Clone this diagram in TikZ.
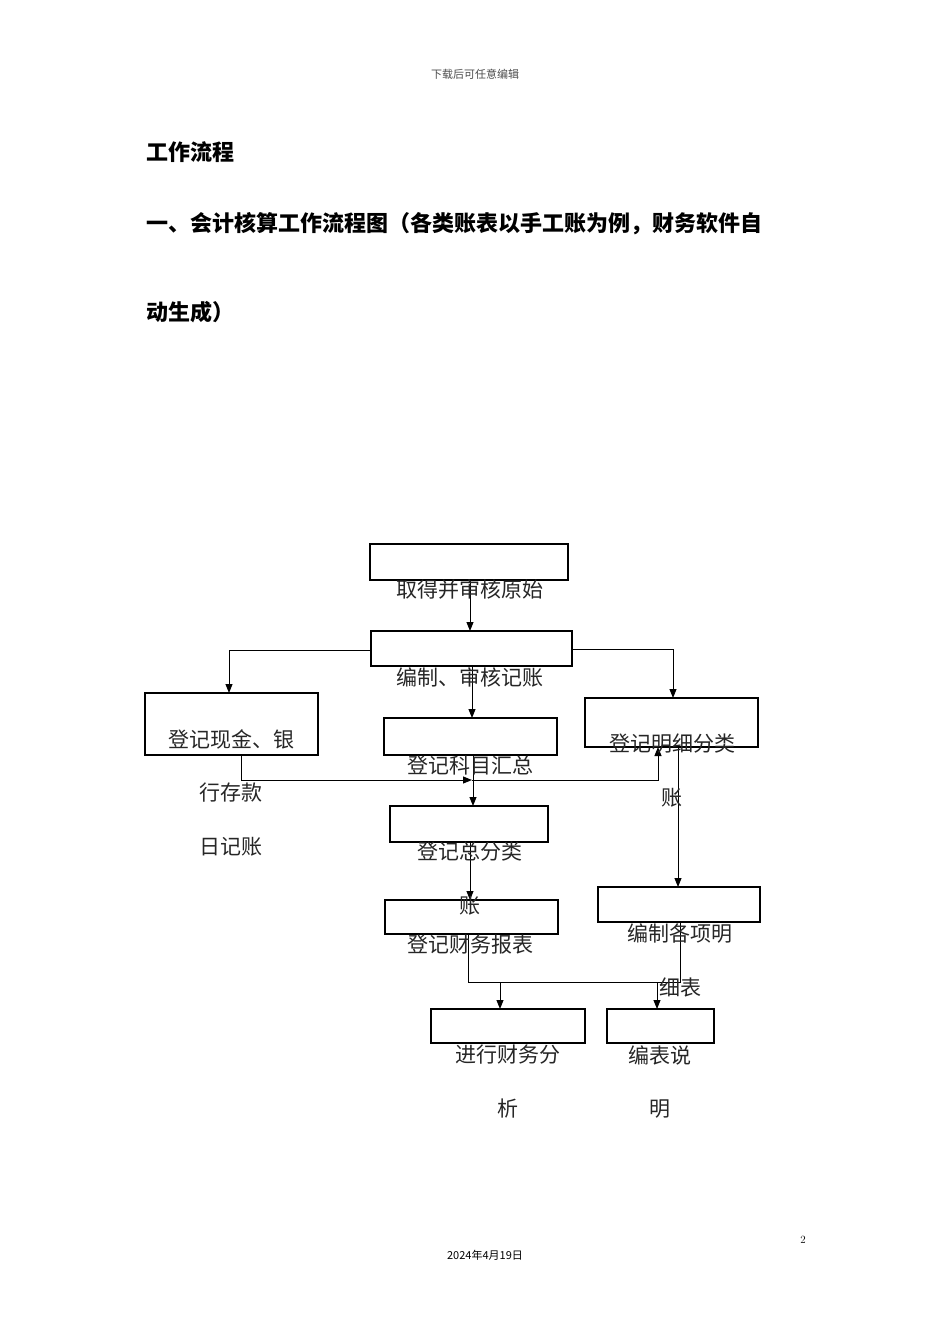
\documentclass[tikz,border=0pt]{standalone}
\usepackage{fontspec}
\newfontfamily\cjk{Noto Sans CJK SC}
\usetikzlibrary{arrows.meta}
\begin{document}
\begin{tikzpicture}[x=1pt,y=-1pt,
  bx/.style={draw,line width=1.2pt},
  lb/.style={font=\cjk\fontsize{21}{21}\selectfont,text=black!85,inner sep=0pt},
  ln/.style={line width=1pt},
  ar/.style={ln,-{Triangle[length=9pt,width=7pt]}}]
\useasboundingbox (0,0) rectangle (950,1344);
\node[font=\cjk\fontsize{11}{11}\selectfont,text=black!70] (hd) at (475,74) {下载后可任意编辑};
\node[font=\cjk\bfseries\fontsize{22}{22}\selectfont,anchor=west] (t1) at (143,152) {工作流程};
\node[font=\cjk\bfseries\fontsize{22}{22}\selectfont,anchor=west] (t2) at (143,224) {一、会计核算工作流程图（各类账表以手工账为例，财务软件自};
\node[font=\cjk\bfseries\fontsize{22}{22}\selectfont,anchor=west] (t3) at (143,312) {动生成）};
\node[font=\fontsize{11}{11}\selectfont] (pg) at (803,1240) {2};
\node[font=\cjk\fontsize{11}{11}\selectfont] (dt) at (485,1255) {2024年4月19日};

\draw[bx] (370,544) rectangle (568,580);
\draw[bx] (371,631) rectangle (572,666);
\draw[bx] (145,693) rectangle (318,755);
\draw[bx] (384,718) rectangle (557,755);
\draw[bx] (585,698) rectangle (758,747);
\draw[bx] (390,806) rectangle (548,842);
\draw[bx] (385,900) rectangle (558,934);
\draw[bx] (598,887) rectangle (760,922);
\draw[bx] (431,1009) rectangle (585,1043);
\draw[bx] (607,1009) rectangle (714,1043);

\coordinate (b1s) at (470,580); \coordinate (b2n) at (470,631);
\draw[ar] (b1s) -- (b2n);
\coordinate (b2w) at (371,650); \coordinate (b3n) at (229,693);
\draw[ar] (b2w) -| (b3n);
\coordinate (b2e) at (572,649); \coordinate (b5n) at (673,698);
\draw[ar] (b2e) -| (b5n);
\coordinate (b2s) at (472,666); \coordinate (b4n) at (472,718);
\draw[ar] (b2s) -- (b4n);
\coordinate (b3s) at (241,755); \coordinate (mid) at (472,780); \coordinate (b5s) at (658,747);
\draw[ar] (b3s) |- (mid);
\draw[ar] (mid) -| (b5s);
\coordinate (b4s) at (473,755); \coordinate (b6n) at (473,806);
\draw[ar] (b4s) -- (b6n);
\coordinate (b5b) at (678,747); \coordinate (b8n) at (678,887);
\draw[ar] (b5b) -- (b8n);
\coordinate (b6s) at (470,842); \coordinate (b7n) at (470,900);
\draw[ar] (b6s) -- (b7n);
\coordinate (b7s) at (468,934); \coordinate (j) at (680,982); \coordinate (b8s) at (680,922);
\draw[ln] (b7s) |- (j) -- (b8s);
\coordinate (ja) at (500,982); \coordinate (b9n) at (500,1009);
\coordinate (jb) at (657,982); \coordinate (b10n) at (657,1009);
\draw[ar] (ja) -- (b9n);
\draw[ar] (jb) -- (b10n);

\node[lb] (l1) at (470,590) {取得并审核原始};
\node[lb] (l2) at (470,677) {编制、审核记账};
\node[lb] (l3a) at (231,739) {登记现金、银};
\node[lb] (l3b) at (231,793) {行存款};
\node[lb] (l3c) at (231,847) {日记账};
\node[lb] (l4) at (470,765) {登记科目汇总};
\node[lb] (l5a) at (672,744) {登记明细分类};
\node[lb] (l5b) at (672,798) {账};
\node[lb] (l6a) at (470,852) {登记总分类};
\node[lb] (l6b) at (470,906) {账};
\node[lb] (l7) at (470,945) {登记财务报表};
\node[lb] (l8a) at (680,933) {编制各项明};
\node[lb] (l8b) at (680,987) {细表};
\node[lb] (l9a) at (508,1055) {进行财务分};
\node[lb] (l9b) at (508,1109) {析};
\node[lb] (l10a) at (660,1055) {编表说};
\node[lb] (l10b) at (660,1109) {明};
\end{tikzpicture}
\end{document}
